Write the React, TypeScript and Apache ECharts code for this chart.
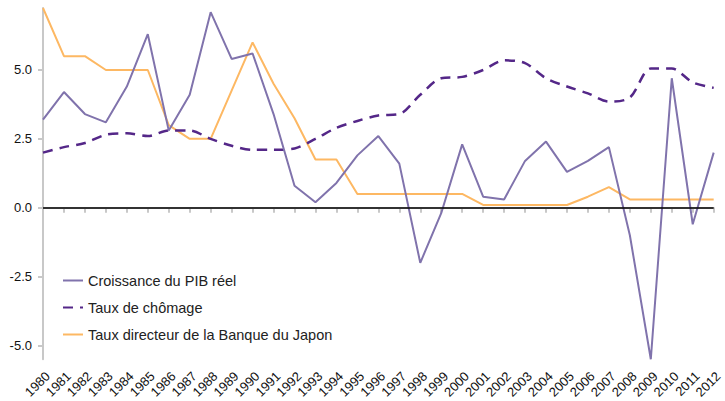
import React, { useEffect, useRef } from "react";
import * as echarts from "echarts";

const years = [
  "1980","1981","1982","1983","1984","1985","1986","1987","1988","1989",
  "1990","1991","1992","1993","1994","1995","1996","1997","1998","1999",
  "2000","2001","2002","2003","2004","2005","2006","2007","2008","2009",
  "2010","2011","2012",
];
const gdpGrowth = [
  3.2, 4.2, 3.4, 3.1, 4.4, 6.3, 2.8, 4.1, 7.1, 5.4,
  5.6, 3.4, 0.8, 0.2, 0.9, 1.9, 2.6, 1.6, -2.0, -0.2,
  2.3, 0.4, 0.3, 1.7, 2.4, 1.3, 1.7, 2.2, -1.0, -5.5,
  4.7, -0.6, 2.0,
];
const unemployment = [
  2.0, 2.2, 2.35, 2.65, 2.7, 2.6, 2.8, 2.8, 2.5, 2.25,
  2.1, 2.1, 2.15, 2.5, 2.9, 3.15, 3.35, 3.4, 4.1, 4.7,
  4.75, 5.0, 5.35, 5.25, 4.7, 4.4, 4.15, 3.85, 4.0, 5.05,
  5.05, 4.55, 4.35,
];
const policyRate = [
  7.25, 5.5, 5.5, 5.0, 5.0, 5.0, 3.0, 2.5, 2.5, 4.25,
  6.0, 4.5, 3.25, 1.75, 1.75, 0.5, 0.5, 0.5, 0.5, 0.5,
  0.5, 0.1, 0.1, 0.1, 0.1, 0.1, 0.4, 0.75, 0.3, 0.3,
  0.3, 0.3, 0.3,
];
const yTicks = [-5, -2.5, 0, 2.5, 5];
const seriesNames = [
  "Croissance du PIB réel",
  "Taux de chômage",
  "Taux directeur de la Banque du Japon",
];

export default function App() {
  const ref = useRef<HTMLDivElement>(null);
  useEffect(() => {
    if (!ref.current) return;
    const chart = echarts.init(ref.current, undefined, { renderer: "svg" });
    const font = "Liberation Sans";
    chart.setOption({
      animation: false,
      textStyle: { fontFamily: font },
      grid: { left: 43, right: 10, top: 8, bottom: 41, containLabel: false },
      legend: {
        orient: "vertical",
        left: 57,
        top: 268,
        itemWidth: 20,
        itemHeight: 14,
        itemGap: 12,
        itemStyle: { opacity: 0 },
        textStyle: { fontSize: 14.5, color: "#222", fontFamily: font },
        data: seriesNames,
      },
      xAxis: {
        type: "category",
        data: years,
        boundaryGap: false,
        axisLine: { lineStyle: { color: "#c8c8c8", width: 2 } },
        axisTick: { alignWithLabel: true, length: 5, lineStyle: { color: "#c8c8c8", width: 2 } },
        axisLabel: {
          rotate: 45,
          fontSize: 13,
          color: "#111",
          margin: 10,
          interval: 0,
          verticalAlign: "top",
          fontFamily: font,
        },
        splitLine: { show: false },
      },
      yAxis: {
        type: "value",
        min: -5.5,
        max: 7.25,
        axisLine: { show: true, lineStyle: { color: "#c8c8c8", width: 2 } },
        axisTick: { show: true, length: 5, customValues: yTicks, lineStyle: { color: "#c8c8c8", width: 2 } },
        axisLabel: {
          fontSize: 13,
          color: "#111",
          margin: 11,
          fontFamily: font,
          customValues: yTicks,
          formatter: (v: number) => v.toFixed(1),
        },
        splitLine: { show: false },
      },
      series: [
        {
          name: seriesNames[0],
          type: "line",
          data: gdpGrowth,
          symbol: "none",
          lineStyle: { color: "#8073ac", width: 2 },
          itemStyle: { color: "#8073ac" },
          z: 3,
          markLine: {
            silent: true,
            symbol: "none",
            label: { show: false },
            lineStyle: { color: "#000", width: 1.5, type: "solid" },
            data: [{ yAxis: 0 }],
          },
        },
        {
          name: seriesNames[1],
          type: "line",
          data: unemployment,
          symbol: "none",
          smooth: 0.3,
          lineStyle: { color: "#542788", width: 2.5, type: [10, 7] },
          itemStyle: { color: "#542788" },
          z: 2,
        },
        {
          name: seriesNames[2],
          type: "line",
          data: policyRate,
          symbol: "none",
          lineStyle: { color: "#fdb863", width: 2 },
          itemStyle: { color: "#fdb863" },
          z: 1,
        },
      ],
    });
    return () => chart.dispose();
  }, []);
  return <div ref={ref} style={{ width: 725, height: 401, position: "absolute", left: 0, top: 0 }} />;
}
